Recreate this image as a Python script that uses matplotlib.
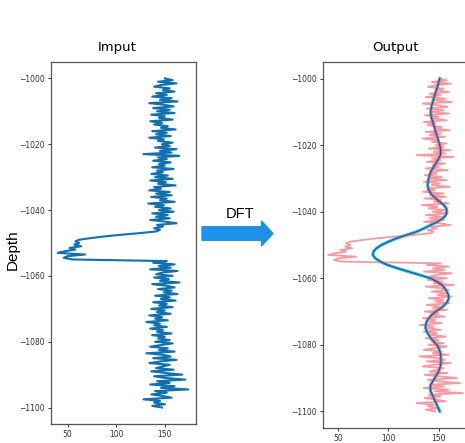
import numpy as np
import matplotlib
matplotlib.use("Agg")
import matplotlib.pyplot as plt
from matplotlib.patches import FancyArrow

# Depth samples (0.5 step) and the input log values
depth = np.arange(-1000.0, -1100.25, -0.5)
signal = [
    150, 158, 143, 162, 146, 139, 155, 148, 160, 141,
    152, 137, 157, 145, 163, 134, 149, 159, 138, 155,
    142, 160, 136, 150, 144, 158, 135, 147, 139, 153,
    146, 161, 137, 152, 141, 156, 134, 149, 143, 158,
    147, 155, 140, 162, 145, 157, 128, 165, 143, 152,
    138, 156, 144, 150, 137, 159, 142, 148, 136, 153,
    140, 158, 135, 151, 143, 161, 139, 146, 134, 155,
    141, 157, 136, 152, 145, 160, 133, 149, 140, 156,
    144, 159, 137, 153, 141, 155, 135, 150, 162, 142,
    148, 139, 145, 141, 124, 105, 88, 74, 62, 58,
    62, 57, 64, 52, 58, 47, 40, 68, 50, 46,
    55, 152, 138, 160, 144, 156, 135, 163, 147, 141,
    158, 139, 154, 145, 165, 137, 152, 160, 143, 157,
    149, 163, 140, 155, 146, 161, 138, 152, 144, 158,
    136, 150, 142, 156, 134, 147, 140, 153, 131, 145,
    139, 152, 135, 148, 142, 157, 137, 150, 143, 155,
    140, 158, 146, 135, 153, 144, 160, 131, 149, 156,
    138, 162, 145, 134, 155, 148, 141, 159, 136, 151,
    168, 139, 150, 171, 142, 155, 135, 160, 146, 174,
    140, 152, 136, 148, 157, 128, 145, 139, 150, 137,
    147,
]

# DFT low-pass reconstruction (1 ft step)
depth_smooth = np.arange(-1000.0, -1100.5, -1.0)
smooth = [
    151, 150, 149, 148, 147, 146, 145, 144, 143, 142.5,
    142, 142.3, 143, 144, 145, 146, 147, 148, 149, 150,
    151, 151.7, 152, 151.5, 150, 148, 146, 144, 142, 141,
    140, 139.3, 139, 139.5, 141, 143.5, 147, 151, 155, 157.5,
    158, 157, 154, 149, 142, 135.5, 128, 118, 108, 100,
    93, 88, 85, 84.5, 87, 92, 99, 109, 120, 131,
    142, 148, 153, 156, 158, 159.5, 160, 158.5, 156, 152,
    147, 143, 140, 138, 137, 137, 138, 140, 142, 145,
    148, 150, 151, 152, 152, 152.3, 152, 151, 150, 148,
    146, 144, 142, 141.5, 142, 143.5, 145, 146.5, 148, 149.5,
    151,
]

x_ticks = [50, 100, 150]
y_ticks = [-1000, -1020, -1040, -1060, -1080, -1100]
titles = ["Imput", "Output"]

W, H = 465, 443
fig = plt.figure(figsize=(W / 100, H / 100), dpi=100)

def px(x0, y_top, x1, y_bot):
    return [x0 / W, 1 - y_bot / H, (x1 - x0) / W, (y_bot - y_top) / H]

ax1 = fig.add_axes(px(51, 62, 196, 424))
ax2 = fig.add_axes(px(323, 62, 473, 428))

ax1.plot(signal, depth, color="#1170b0", lw=1.5)
ax1.set_xlim(33, 182)

ax2.plot(smooth, depth_smooth, color="#22b8d2", lw=2.2, zorder=2)
ax2.plot(signal, depth, color="#f06472", lw=1.3, alpha=0.65, zorder=3)
ax2.plot(smooth, depth_smooth, color="#1b1f80", lw=0.45, zorder=4)
ax2.set_xlim(35, 184)

for ax in (ax1, ax2):
    ax.set_ylim(-1105, -995)
    ax.set_xticks(x_ticks)
    ax.set_yticks(y_ticks)
    ax.tick_params(labelsize=5.5, length=2.5, width=0.7, pad=2, colors="#333333")
    for s in ax.spines.values():
        s.set_color("#555555")
        s.set_linewidth(0.9)

fig.text(117 / W, 1 - 47 / H, titles[0], ha="center", va="center", fontsize=9.5)
fig.text(395 / W, 1 - 47 / H, titles[1], ha="center", va="center", fontsize=9.5)
fig.text(13 / W, 1 - 250 / H, "Depth", rotation=90, ha="center", va="center",
         fontsize=11, family="Liberation Sans")
fig.text(240 / W, 1 - 214 / H, "DFT", ha="center", va="center",
         fontsize=10.5, family="Liberation Sans")

arrow = FancyArrow(202 / W, 1 - 233.5 / H, 71 / W, 0,
                   width=13.5 / H, head_width=25 / H, head_length=11.5 / W,
                   length_includes_head=True, color="#1e90e6",
                   transform=fig.transFigure)
fig.add_artist(arrow)

fig.savefig("out.png", dpi=100)
